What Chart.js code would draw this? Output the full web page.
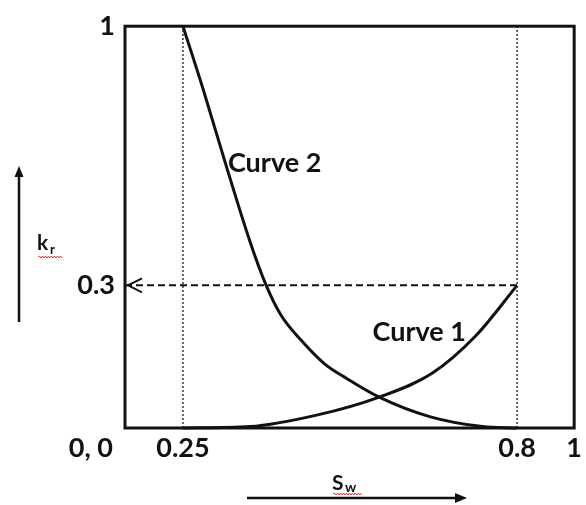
<!DOCTYPE html>
<html>
<head>
<meta charset="utf-8">
<script src="https://cdn.jsdelivr.net/npm/chart.js@4.4.1/dist/chart.umd.min.js"></script>
<style>
  html, body { margin: 0; padding: 0; background: #fff; }
  #wrap { width: 586px; height: 505px; }
</style>
</head>
<body>
<div id="wrap"><canvas id="krChart" width="586" height="505"></canvas></div>
<script>
// Data (Sw = water saturation, kr = relative permeability)
const swTicks = [0.25, 0.8, 1];
const krTicks = [0.3, 1];
const curve1Sw = [0.25, 0.36, 0.47, 0.573, 0.66, 0.732, 0.8];
const curve1Kr = [0, 0.003, 0.027, 0.065, 0.115, 0.194, 0.3];
const curve2Sw = [0.25, 0.283, 0.319, 0.36, 0.387, 0.412, 0.445, 0.483, 0.516, 0.573, 0.656, 0.743, 0.8];
const curve2Kr = [1, 0.831, 0.635, 0.42, 0.3, 0.236, 0.184, 0.135, 0.107, 0.065, 0.024, 0.003, 0];
const swLimits = [0.25, 0.8];
const krEndPoint = 0.3;

// the sketch is not to scale: piecewise axis, stops -> fraction of the axis length
const xStops = [0, 0.25, 0.8, 1];
const xFracs = [0, 0.129, 0.873, 1];
const yStops = [0, 0.3, 1];
const yFracs = [0, 0.355, 1];

const INK = "#111";
const FONT = "Lato";

function mapPiece(v, from, to) {
    for (let i = 1; i < from.length; i++) {
        if (v <= from[i] || i === from.length - 1) {
            const t = (v - from[i - 1]) / (from[i] - from[i - 1]);
            return to[i - 1] + t * (to[i] - to[i - 1]);
        }
    }
    return to[0];
}

class PiecewiseScale extends Chart.LinearScale {
    getPixelForValue(value) {
        if (value === null || value === undefined) return NaN;
        const horiz = this.isHorizontal();
        const dec = mapPiece(value, horiz ? xStops : yStops, horiz ? xFracs : yFracs);
        return this.getPixelForDecimal(dec);
    }
    getValueForPixel(pixel) {
        const horiz = this.isHorizontal();
        const dec = this.getDecimalForPixel(pixel);
        return mapPiece(dec, horiz ? xFracs : yFracs, horiz ? xStops : yStops);
    }
}
PiecewiseScale.id = "piecewise";
PiecewiseScale.defaults = Chart.LinearScale.defaults;
Chart.register(PiecewiseScale);

function zip(xs, ys) {
    return xs.map((x, i) => ({ x: x, y: ys[i] }));
}

function curveSet(xs, ys) {
    return {
        data: zip(xs, ys),
        borderColor: INK,
        borderWidth: 3,
        pointRadius: 0,
        showLine: true,
        cubicInterpolationMode: "monotone",
        clip: 6,
    };
}

const datasets = [];
swLimits.forEach(function (s) {
    datasets.push({
        data: [{ x: s, y: 0 }, { x: s, y: 1 }],
        borderColor: "#333",
        borderWidth: 1.5,
        borderDash: [2, 2],
        pointRadius: 0,
        showLine: true,
    });
});
datasets.push({
    data: [{ x: 0, y: krEndPoint }, { x: 0.8, y: krEndPoint }],
    borderColor: INK,
    borderWidth: 2,
    borderDash: [7, 4],
    pointRadius: 0,
    showLine: true,
});
datasets.push(curveSet(curve1Sw, curve1Kr));
datasets.push(curveSet(curve2Sw, curve2Kr));

// annotation text, placed in plot coordinates
const curveLabels = [
    { text: "Curve 2", x: 0.324, y: 0.629 },
    { text: "Curve 1", x: 0.562, y: 0.201 },
];

function squiggle(ctx, x0, x1, y) {
    ctx.save();
    ctx.strokeStyle = "#d33";
    ctx.lineWidth = 1;
    ctx.beginPath();
    ctx.moveTo(x0, y);
    let up = true;
    for (let x = x0 + 1.5; x <= x1; x += 1.5) {
        ctx.lineTo(x, up ? y - 1 : y + 1);
        up = !up;
    }
    ctx.stroke();
    ctx.restore();
}

function arrowHead(ctx, tipX, tipY, dx, dy, len, half) {
    // filled triangle pointing in direction (dx, dy)
    const bx = tipX - dx * len, by = tipY - dy * len;
    ctx.beginPath();
    ctx.moveTo(tipX, tipY);
    ctx.lineTo(bx - dy * half, by + dx * half);
    ctx.lineTo(bx + dy * half, by - dx * half);
    ctx.closePath();
    ctx.fill();
}

const decorPlugin = {
    id: "decor",
    afterDraw(chart) {
        const ctx = chart.ctx;
        const area = chart.chartArea;
        const xs = chart.scales.x, ys = chart.scales.y;
        ctx.save();

        // frame
        ctx.strokeStyle = INK;
        ctx.lineWidth = 3;
        ctx.strokeRect(area.left, area.top, area.right - area.left, area.bottom - area.top);

        // open arrow head at the kr axis
        const ay = ys.getPixelForValue(krEndPoint);
        const ax = xs.getPixelForValue(0) + 3;
        ctx.lineWidth = 2;
        ctx.beginPath();
        ctx.moveTo(ax + 14, ay - 7);
        ctx.lineTo(ax, ay);
        ctx.lineTo(ax + 14, ay + 7);
        ctx.stroke();

        ctx.fillStyle = INK;
        ctx.textBaseline = "middle";

        // origin label
        ctx.font = "bold 27px " + FONT;
        ctx.textAlign = "right";
        ctx.fillText("0, 0", area.left - 12, area.bottom + 20);

        // curve labels
        ctx.font = "bold 27px " + FONT;
        ctx.textAlign = "left";
        curveLabels.forEach(function (l) {
            ctx.fillText(l.text, xs.getPixelForValue(l.x), ys.getPixelForValue(l.y));
        });

        // kr title with arrow
        ctx.textBaseline = "alphabetic";
        ctx.font = "bold 21px " + FONT;
        ctx.fillText("k", 37, 250);
        ctx.font = "bold 13px " + FONT;
        ctx.fillText("r", 50, 254);
        squiggle(ctx, 38, 62, 257);
        ctx.lineWidth = 2.5;
        ctx.beginPath();
        ctx.moveTo(19, 322);
        ctx.lineTo(19, 176);
        ctx.stroke();
        arrowHead(ctx, 19, 166, 0, -1, 11, 4.5);

        // Sw title with arrow
        ctx.font = "bold 21px " + FONT;
        ctx.fillText("S", 332, 490);
        ctx.font = "bold 14px " + FONT;
        ctx.fillText("w", 345, 492);
        squiggle(ctx, 333, 362, 494);
        ctx.lineWidth = 2.5;
        ctx.beginPath();
        ctx.moveTo(247, 498);
        ctx.lineTo(456, 498);
        ctx.stroke();
        arrowHead(ctx, 467, 498, 1, 0, 12, 5);

        ctx.restore();
    },
};

const tickFont = { family: FONT, size: 27, weight: "bold" };

new Chart(document.getElementById("krChart").getContext("2d"), {
    type: "scatter",
    data: { datasets: datasets },
    options: {
        responsive: false,
        animation: false,
        layout: { padding: { top: 24, right: 11, left: 0, bottom: 0 } },
        plugins: { legend: { display: false }, tooltip: { enabled: false } },
        scales: {
            x: {
                type: "piecewise",
                min: 0,
                max: 1,
                grid: { display: false, drawTicks: false },
                border: { display: false },
                afterBuildTicks: (scale) => { scale.ticks = swTicks.map(v => ({ value: v })); },
                afterFit: (scale) => { scale.height = 77; },
                ticks: { color: INK, font: tickFont, padding: 4, maxRotation: 0, callback: (v) => String(v) },
            },
            y: {
                type: "piecewise",
                min: 0,
                max: 1,
                grid: { display: false, drawTicks: false },
                border: { display: false },
                afterBuildTicks: (scale) => { scale.ticks = krTicks.map(v => ({ value: v })); },
                afterFit: (scale) => { scale.width = 125; },
                ticks: { color: INK, font: tickFont, padding: 10, callback: (v) => String(v) },
            },
        },
    },
    plugins: [decorPlugin],
});
</script>
</body>
</html>
